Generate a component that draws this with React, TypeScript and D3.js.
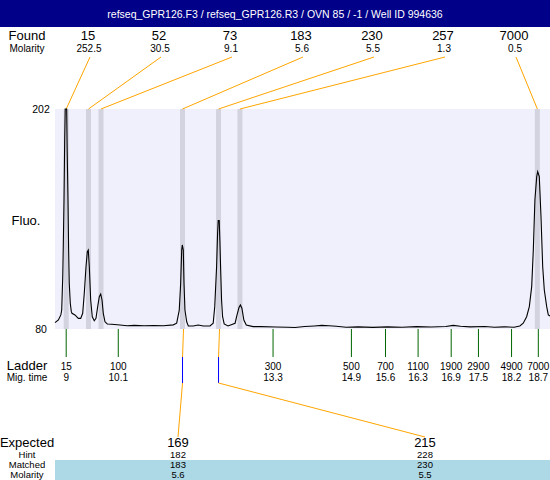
import * as d3 from 'd3';

const title = 'refseq_GPR126.F3 / refseq_GPR126.R3 / OVN 85 / -1 / Well ID 994636';

// found peaks
const foundSizes = ['15', '52', '73', '183', '230', '257', '7000'];
const foundMolarity = ['252.5', '30.5', '9.1', '5.6', '5.5', '1.3', '0.5'];
const foundTimes = [9.0, 9.458, 9.715, 11.39, 12.13, 12.57, 18.68];

// ladder
const ladderSizes = ['15', '100', '300', '500', '700', '1100', '1900', '2900', '4900', '7000'];
const ladderTimes = [9.0, 10.07, 13.25, 14.86, 15.56, 16.23, 16.91, 17.47, 18.15, 18.7];
const ladderLabels = ['9', '10.1', '13.3', '14.9', '15.6', '16.3', '16.9', '17.5', '18.2', '18.7'];

// expected / matched
const expected = ['169', '215'];
const hint = ['182', '228'];
const matched = ['183', '230'];
const matchedMolarity = ['5.6', '5.5'];

// electropherogram trace [mig. time, fluo]
const trace: [number, number][] = [
  [8.77, 83.5], [8.84, 85.0], [8.89, 87.8], [8.908, 90.5], [8.929, 109], [8.94, 125.6],
  [8.955, 151.5], [8.969, 184.8], [8.98, 202], [9.01, 202], [9.02, 179.3], [9.037, 151.5],
  [9.05, 123.8], [9.063, 105.3], [9.084, 94.3], [9.105, 89.6], [9.119, 88.7], [9.18, 87.8],
  [9.249, 85.9], [9.298, 85.9], [9.339, 88.7], [9.372, 100], [9.407, 114.5], [9.434, 122.9],
  [9.454, 123.8], [9.475, 114.5], [9.503, 96.1], [9.536, 86.8], [9.577, 84.6], [9.612, 85.9],
  [9.647, 92.4], [9.68, 97.9], [9.709, 99.4], [9.736, 96.1], [9.762, 88.7], [9.797, 84.0],
  [9.845, 82.8], [9.935, 82.6], [10.106, 82.2], [10.25, 81.8], [10.4, 82.0], [10.6, 81.8],
  [10.8, 81.9], [11.0, 81.8], [11.2, 82.3], [11.27, 83.2], [11.323, 90.5], [11.352, 105.3],
  [11.373, 123.8], [11.385, 126.6], [11.406, 123.8], [11.42, 105.5], [11.44, 90.5],
  [11.476, 84.0], [11.509, 81.7], [11.61, 81.7], [11.713, 82.2], [11.816, 81.7], [11.955, 81.7],
  [12.02, 83.2], [12.052, 92.4], [12.09, 114.5], [12.11, 133], [12.123, 140.1], [12.144, 140.1],
  [12.157, 129.4], [12.172, 114.5], [12.192, 96.1], [12.213, 86.8], [12.246, 82.8],
  [12.325, 81.7], [12.47, 83.2], [12.51, 87.8], [12.55, 91.9], [12.58, 93.3], [12.61, 91.5],
  [12.65, 85.0], [12.7, 82.2], [12.84, 81.3], [13.0, 81.3], [13.3, 81.1], [13.55, 81.0],
  [13.7, 80.8], [13.9, 81.4], [14.1, 81.7], [14.25, 82.0], [14.4, 81.8], [14.55, 81.5],
  [14.75, 81.0], [15.0, 81.2], [15.3, 80.9], [15.6, 81.2], [15.9, 81.0], [16.2, 81.3],
  [16.5, 81.1], [16.8, 81.4], [16.95, 82.0], [17.1, 81.5], [17.3, 81.2], [17.6, 81.4],
  [17.8, 81.0], [18.0, 81.2], [18.2, 81.0], [18.32, 81.7], [18.39, 83.2], [18.46, 86.8],
  [18.515, 92.4], [18.564, 103.5], [18.597, 123.8], [18.63, 151.5], [18.667, 164.5],
  [18.687, 167.2], [18.72, 164.5], [18.755, 142.3], [18.79, 114.5], [18.823, 101.6],
  [18.872, 92.4], [18.905, 87.8], [18.94, 87.2],
];

const W = 550;
const H = 480;
const plot = { left: 55, right: 550, top: 109, bottom: 329 };
const font = 'Liberation Sans, Arial, sans-serif';
const labelX = 27;
const colX = (i: number) => 88 + 71 * i;
const expectedX = [178, 425];

export default function App() {
  const x = d3.scaleLinear().domain([8.77, 18.94]).range([plot.left, plot.right]);
  const y = d3.scaleLinear().domain([80, 202]).range([plot.bottom, plot.top]);

  const line = d3
    .line<[number, number]>()
    .x(d => x(d[0]))
    .y(d => y(d[1]));

  return (
    <svg
      width={W}
      height={H}
      style={{ position: 'absolute', left: 0, top: 0, background: '#fff' }}
      fontFamily={font}
    >
      {/* title bar */}
      <rect x={0} y={0} width={W} height={27} fill='#000088' />
      <text x={W / 2} y={18} textAnchor='middle' fill='#fff' fontSize={10.5}>
        {title}
      </text>

      {/* found rows */}
      <text x={labelX} y={40} textAnchor='middle' fontSize={13}>Found</text>
      <text x={labelX} y={52} textAnchor='middle' fontSize={10}>Molarity</text>
      {foundSizes.map((s, i) => (
        <g key={s}>
          <text x={colX(i)} y={40} textAnchor='middle' fontSize={13}>{s}</text>
          <text x={colX(i) + 1} y={52} textAnchor='middle' fontSize={10}>{foundMolarity[i]}</text>
        </g>
      ))}

      {/* plot area */}
      <rect
        x={plot.left}
        y={plot.top}
        width={plot.right - plot.left}
        height={plot.bottom - plot.top}
        fill='#f0f0fc'
      />
      {foundTimes.map((t, i) => (
        <rect
          key={i}
          x={x(t) - 2.5}
          y={plot.top}
          width={5}
          height={plot.bottom - plot.top}
          fill='#d3d3e0'
        />
      ))}
      {foundTimes.map((t, i) => (
        <line
          key={i}
          x1={colX(i) + 2}
          y1={57}
          x2={x(t)}
          y2={plot.top}
          stroke='#ffa500'
          strokeWidth={1}
        />
      ))}
      <path d={line(trace) ?? ''} fill='none' stroke='#000' strokeWidth={1.1} />

      {/* y labels */}
      <text x={41} y={113} textAnchor='middle' fontSize={10.5}>202</text>
      <text x={41} y={333} textAnchor='middle' fontSize={10.5}>80</text>
      <text x={26} y={225} textAnchor='middle' fontSize={13}>Fluo.</text>

      {/* ladder ticks */}
      {ladderTimes.map((t, i) => (
        <g key={i}>
          <line x1={x(t)} x2={x(t)} y1={plot.bottom} y2={357} stroke='#006600' />
          <text x={x(t)} y={370} textAnchor='middle' fontSize={10}>{ladderSizes[i]}</text>
          <text x={x(t)} y={381} textAnchor='middle' fontSize={10}>{ladderLabels[i]}</text>
        </g>
      ))}
      <text x={labelX} y={370} textAnchor='middle' fontSize={13}>Ladder</text>
      <text x={labelX} y={381} textAnchor='middle' fontSize={10}>Mig. time</text>

      {/* expected / matched */}
      <rect x={plot.left} y={460} width={W - plot.left} height={H - 460} fill='#add8e6' />
      <text x={labelX} y={447} textAnchor='middle' fontSize={13}>Expected</text>
      <text x={labelX} y={458} textAnchor='middle' fontSize={9.5}>Hint</text>
      <text x={labelX} y={468} textAnchor='middle' fontSize={9.5}>Matched</text>
      <text x={labelX} y={478} textAnchor='middle' fontSize={9.5}>Molarity</text>
      {matched.map((m, i) => {
        const t = foundTimes[foundSizes.indexOf(m)];
        const px = x(t);
        return (
          <g key={m}>
            <line x1={px + 1} y1={plot.bottom} x2={px} y2={357} stroke='#ffa500' />
            <line x1={px} y1={357} x2={px} y2={383} stroke='#0000ff' />
            <line x1={px} y1={383} x2={expectedX[i]} y2={437} stroke='#ffa500' />
            <text x={expectedX[i]} y={447} textAnchor='middle' fontSize={13}>{expected[i]}</text>
            <text x={expectedX[i]} y={458} textAnchor='middle' fontSize={9.5}>{hint[i]}</text>
            <text x={expectedX[i]} y={468} textAnchor='middle' fontSize={9.5}>{m}</text>
            <text x={expectedX[i]} y={478} textAnchor='middle' fontSize={9.5}>{matchedMolarity[i]}</text>
          </g>
        );
      })}
    </svg>
  );
}
